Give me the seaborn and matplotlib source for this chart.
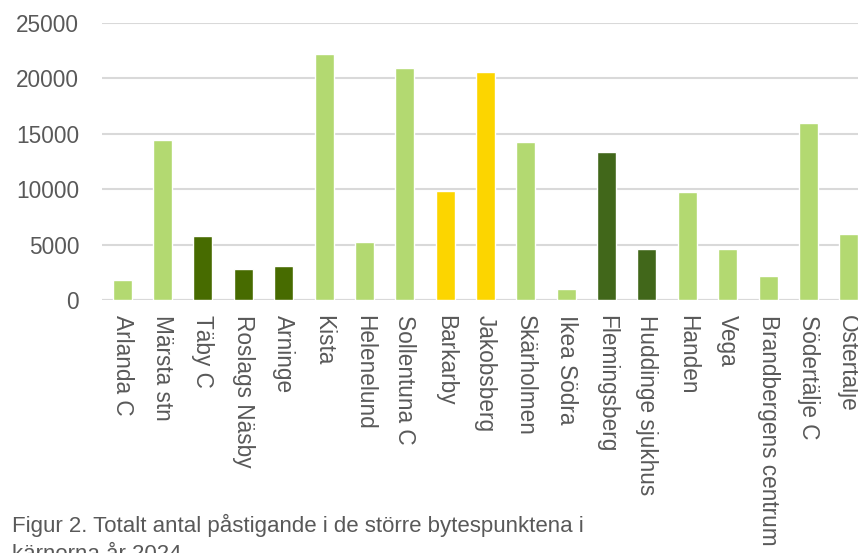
import matplotlib
matplotlib.use("Agg")
import matplotlib.pyplot as plt
import seaborn as sns
import pandas as pd

# Boardings per interchange station, 2024
stations = [
    "Arlanda C", "Märsta stn", "Täby C", "Roslags Näsby", "Arninge", "Kista",
    "Helenelund", "Sollentuna C", "Barkarby", "Jakobsberg", "Skärholmen",
    "Ikea Södra", "Flemingsberg", "Huddinge sjukhus", "Handen", "Vega",
    "Brandbergens centrum", "Södertälje C", "Östertälje",
]
boardings = [
    1800, 14400, 5800, 2800, 3100, 22200,
    5250, 20900, 9850, 20550, 14250,
    1000, 13350, 4600, 9750, 4600,
    2200, 16000, 5950,
]
groups = [
    "pendel", "pendel", "nordost", "nordost", "nordost", "pendel",
    "pendel", "pendel", "nordvast", "nordvast", "pendel",
    "pendel", "syd", "syd", "pendel", "pendel",
    "pendel", "pendel", "pendel",
]
caption_lines = [
    "Figur 2. Totalt antal påstigande i de större bytespunktena i",
    "kärnorna år 2024",
]

palette = {
    "pendel": "#b3d971",
    "nordost": "#476b00",
    "nordvast": "#fcd500",
    "syd": "#41671a",
}

df = pd.DataFrame({"station": stations, "boardings": boardings, "group": groups})

sns.set_theme(style="white")
plt.rcParams["font.family"] = ["Liberation Sans", "DejaVu Sans"]

fig = plt.figure(figsize=(8.58, 5.53), dpi=100)
ax = fig.add_axes([102 / 858, 253 / 553, 767 / 858, 277.3 / 553])

sns.barplot(
    data=df, x="station", y="boardings", hue="group", palette=palette,
    dodge=False, legend=False, width=0.47, saturation=1, ax=ax,
)

ax.set_ylim(0, 25000)
ax.set_yticks([0, 5000, 10000, 15000, 20000, 25000])
ax.set_xlim(-0.5, len(stations) - 0.5)
ax.set_xlabel("")
ax.set_ylabel("")
ax.yaxis.grid(True, color="#d9d9d9", linewidth=1.5)
ax.set_axisbelow(True)
for side in ["top", "right", "left", "bottom"]:
    ax.spines[side].set_visible(False)
ax.axhline(0, color="#d9d9d9", linewidth=1.5, zorder=0.5)

ax.tick_params(axis="y", length=0, pad=16.5, labelsize=16.3, labelcolor="#595959")
ax.tick_params(axis="x", length=0, pad=11, labelsize=16.3, labelcolor="#595959")
for lbl in ax.get_xticklabels():
    lbl.set_rotation(-90)
    lbl.set_ha("center")
    lbl.set_va("top")

# Figure caption below the chart
for i, line in enumerate(caption_lines):
    fig.text(
        12 / 858, 1 - (532 + 28 * i) / 553, line,
        fontsize=16, color="#595959", ha="left", va="baseline",
    )

fig.savefig("out.png", dpi=100)
